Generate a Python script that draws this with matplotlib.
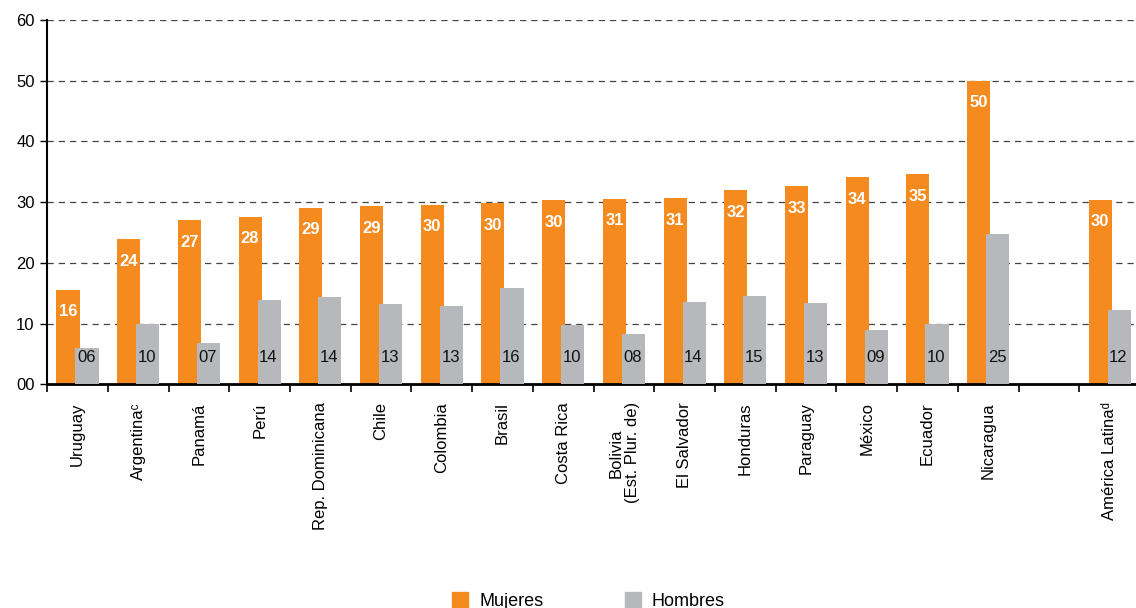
import matplotlib.pyplot as plt
from matplotlib.patches import Patch
import numpy as np

plt.rcParams['font.family'] = ['Liberation Sans', 'DejaVu Sans']

# data
countries = ['Uruguay', 'Argentinaᶜ', 'Panamá', 'Perú', 'Rep. Dominicana', 'Chile',
             'Colombia', 'Brasil', 'Costa Rica', 'Bolivia\n(Est. Plur. de)', 'El Salvador',
             'Honduras', 'Paraguay', 'México', 'Ecuador', 'Nicaragua', '', 'América Latinaᵈ']
mujeres = [15.6, 23.9, 27.0, 27.6, 29.1, 29.4, 29.6, 29.8, 30.3, 30.6, 30.7,
           32.0, 32.6, 34.1, 34.6, 50.0, np.nan, 30.4]
hombres = [5.9, 10.0, 6.8, 13.8, 14.3, 13.2, 12.9, 15.8, 9.7, 8.2, 13.6,
           14.6, 13.4, 9.0, 10.0, 24.7, np.nan, 12.2]

orange = '#F58A1F'
grey = '#B7B8BB'

fig = plt.figure(figsize=(11.36, 6.08), dpi=100)
ax = fig.add_axes([0.0415, 0.368, 0.962, 0.599])

x = np.arange(len(countries))
w = 0.38
off = 0.157
ax.bar(x - off, mujeres, width=w, color=orange, zorder=2)
ax.bar(x + off, hombres, width=w, color=grey, zorder=3)

# value labels
for xi, m, h in zip(x, mujeres, hombres):
    if np.isnan(m):
        continue
    ax.annotate(f'{round(m):02d}', (xi - off, m), xytext=(0, -16), textcoords='offset points',
                ha='center', va='center', color='white', fontweight='bold', fontsize=12, zorder=4)
    ax.annotate(f'{round(h):02d}', (xi + off, 0), xytext=(-0.5, 19), textcoords='offset points',
                ha='center', va='center', color='#111111', fontsize=12, zorder=4)

ax.set_xlim(-0.5, len(countries) - 0.5)
ax.set_ylim(0, 60)
ax.set_yticks(range(0, 61, 10))
ax.set_yticklabels([f'{v:02d}' for v in range(0, 61, 10)], fontsize=12)
ax.tick_params(axis='y', length=5, width=1, pad=4)

ax.set_xticks(x)
ax.set_xticklabels(countries, rotation=90, fontsize=12, multialignment='center',
                   linespacing=1.1)
ax.set_xticks(np.arange(-0.5, len(countries) - 0.4, 1), minor=True)
ax.tick_params(axis='x', which='major', length=0, pad=13)
ax.tick_params(axis='x', which='minor', length=6, width=1.2, direction='out')

for v in range(10, 61, 10):
    ax.axhline(v, color='#444444', linestyle=(0, (5, 4)), linewidth=0.9, zorder=1)

for s in ['top', 'right']:
    ax.spines[s].set_visible(False)
ax.spines['left'].set_linewidth(1.5)
ax.spines['bottom'].set_linewidth(2)

handles = [Patch(color=orange, label='Mujeres'), Patch(color=grey, label='Hombres')]
fig.legend(handles=handles, loc='center', bbox_to_anchor=(0.518, 0.012), ncol=2,
           frameon=False, fontsize=13, handlelength=0.9, handleheight=0.9,
           handletextpad=0.6, columnspacing=4.5)

fig.savefig('out.png', dpi=100)
